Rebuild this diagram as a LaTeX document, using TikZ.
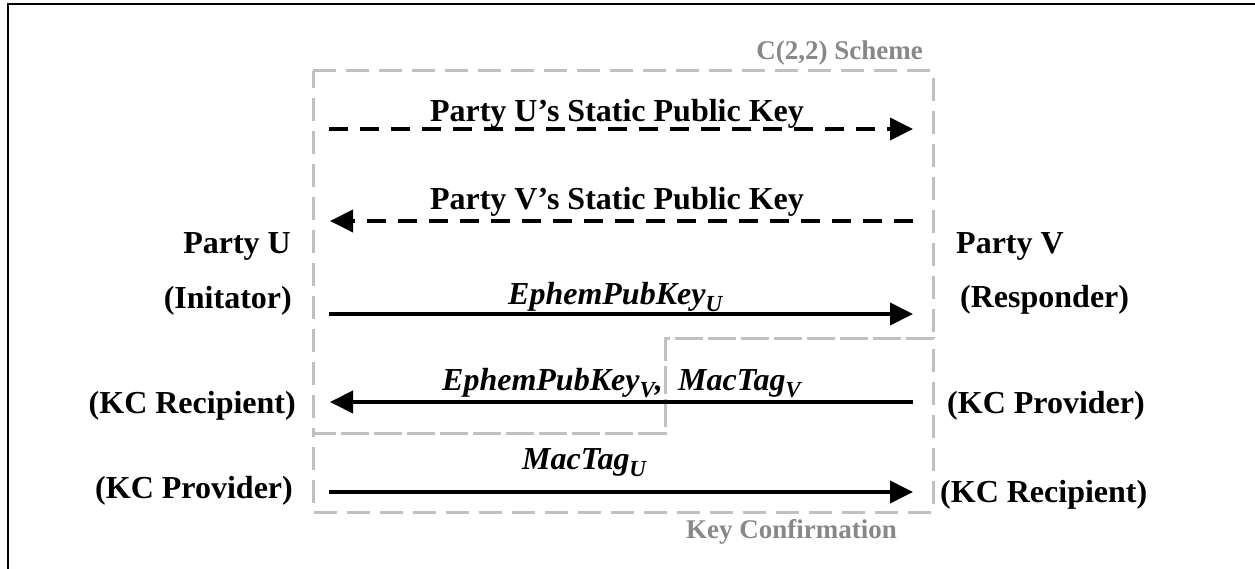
\documentclass[tikz,border=0pt]{standalone}
\usepackage{fontspec}
\setmainfont{Liberation Serif}
\usetikzlibrary{arrows.meta}
\definecolor{boxgray}{RGB}{192,192,192}
\definecolor{boxtext}{RGB}{136,136,136}
\newcommand\msub[1]{\raisebox{-7pt}{\fontsize{23}{23}\selectfont #1}}
\begin{document}
\begin{tikzpicture}[x=1pt,y=-1pt,
  lbl/.style={font=\fontsize{32}{38}\selectfont\bfseries, inner sep=0pt},
  mlbl/.style={font=\fontsize{32}{38}\selectfont\bfseries\itshape, inner sep=0pt},
  glbl/.style={font=\fontsize{27}{32}\selectfont\bfseries, text=boxtext, inner sep=0pt},
  msg/.style={line width=4pt, -{Triangle[length=23pt,width=22pt]}},
  dmsg/.style={msg, dash pattern=on 19pt off 12pt},
  gbox/.style={draw=boxgray, line width=3pt, dash pattern=on 23pt off 10pt},
]
\useasboundingbox (0,0) rectangle (1255,569);
% frame
\draw[line width=2pt] (7.5,569) -- (7.5,4) -- (1255,4);
% grouping boxes
\draw[gbox] (313,71) -- (933,71) -- (933,338) -- (665,338) -- (665,433) -- (313,433) -- cycle;
\draw[gbox] (313,433) -- (665,433) -- (665,338) -- (933,338) -- (933,512) -- (313,512) -- cycle;
\node[glbl, anchor=base east] (scheme) at (923,60) {C(2,2) Scheme};
\node[glbl, anchor=base east] (kconf) at (897,538) {Key Confirmation};
% party labels
\node[lbl, anchor=base east] (pu) at (291,254) {Party U};
\node[lbl, anchor=base east] (pui) at (292,308) {(Initator)};
\node[lbl, anchor=base east] (pur) at (296,413) {(KC Recipient)};
\node[lbl, anchor=base east] (pup) at (293,498) {(KC Provider)};
\node[lbl, anchor=base west] (pv) at (956,254) {Party V};
\node[lbl, anchor=base west] (pvr) at (960,307) {(Responder)};
\node[lbl, anchor=base west] (pvp) at (947,413) {(KC Provider)};
\node[lbl, anchor=base west] (pvr2) at (940,502) {(KC Recipient)};
% arrow end points
\coordinate (a1l) at (329,129); \coordinate (a1r) at (913,129);
\coordinate (a2l) at (330,221); \coordinate (a2r) at (913,221);
\coordinate (a3l) at (329,314); \coordinate (a3r) at (913,314);
\coordinate (a4l) at (330,402); \coordinate (a4r) at (913,402);
\coordinate (a5l) at (329,492); \coordinate (a5r) at (913,492);
% messages
\draw[dmsg] (a1l) -- (a1r);
\node[lbl, anchor=base] (m1) at (617,122) {Party U’s Static Public Key};
\draw[dmsg] (a2r) -- (a2l);
\node[lbl, anchor=base] (m2) at (617,210) {Party V’s Static Public Key};
\draw[msg] (a3l) -- (a3r);
\node[mlbl, anchor=base west] (m3) at (508,304) {EphemPubKey\msub{U}};
\draw[msg] (a4r) -- (a4l);
\node[mlbl, anchor=base west] (m4a) at (442,390) {EphemPubKey\msub{V},};
\node[mlbl, anchor=base west] (m4b) at (678,390) {MacTag\msub{V}};
\draw[msg] (a5l) -- (a5r);
\node[mlbl, anchor=base west] (m5) at (522,469) {MacTag\msub{U}};
\end{tikzpicture}
\end{document}
